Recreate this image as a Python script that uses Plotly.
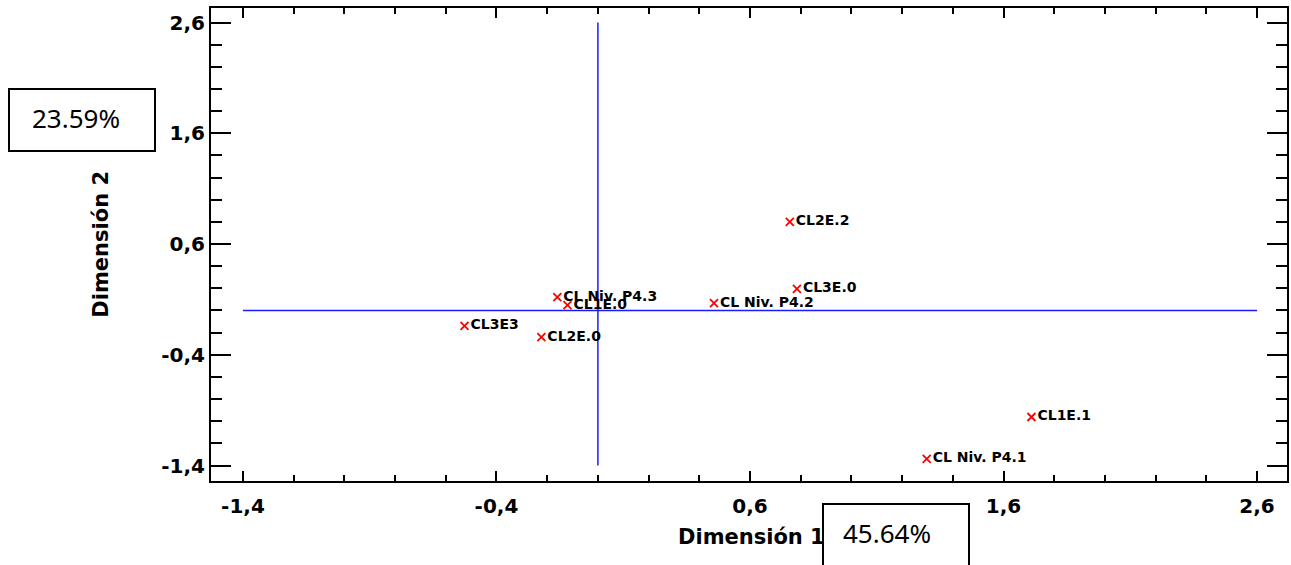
import plotly.graph_objects as go

# --- data ---
labels = ["CL2E.2", "CL3E.0", "CL Niv. P4.2", "CL Niv. P4.3", "CL1E.0",
          "CL3E3", "CL2E.0", "CL1E.1", "CL Niv. P4.1"]
dim1 = [0.757, 0.785, 0.458, -0.160, -0.120, -0.526, -0.223, 1.710, 1.297]
dim2 = [0.799, 0.194, 0.067, 0.121, 0.049, -0.140, -0.240, -0.962, -1.341]

x_ticks = [-1.4, -0.4, 0.6, 1.6, 2.6]
x_ticktext = ["-1,4", "-0,4", "0,6", "1,6", "2,6"]
y_ticks = [-1.4, -0.4, 0.6, 1.6, 2.6]
y_ticktext = ["-1,4", "-0,4", "0,6", "1,6", "2,6"]

cross_h_x = [-1.4, 2.6]
cross_h_y = [0.0, 0.0]
cross_v_x = [0.0, 0.0]
cross_v_y = [-1.4, 2.6]

x_title = "Dimensión 1"
y_title = "Dimensión 2"
pct_dim1 = "45.64%"
pct_dim2 = "23.59%"

BLUE = "#1a1aff"
TICKFONT = dict(family="DejaVu Sans", size=20, color="black", weight="bold")

fig = go.Figure()
fig.add_trace(go.Scatter(x=cross_h_x, y=cross_h_y, mode="lines",
                         line=dict(color=BLUE, width=1.5), hoverinfo="skip"))
fig.add_trace(go.Scatter(x=cross_v_x, y=cross_v_y, mode="lines",
                         line=dict(color=BLUE, width=1.5), hoverinfo="skip"))
fig.add_trace(go.Scatter(
    x=dim1, y=dim2, mode="markers+text", text=labels,
    textposition="middle right",
    textfont=dict(family="DejaVu Sans", size=14, color="black", weight="bold"),
    marker=dict(symbol="x-thin", size=8, line=dict(color="red", width=1.8), color="red"),
))

fig.update_layout(
    width=1291, height=565,
    margin=dict(l=211, r=2, t=8, b=84),
    paper_bgcolor="white", plot_bgcolor="white",
    showlegend=False,
)
fig.update_xaxes(
    range=[-1.526, 2.718], showgrid=False, zeroline=False,
    showline=True, linecolor="black", linewidth=2, mirror="allticks",
    tickmode="array", tickvals=x_ticks, ticktext=x_ticktext,
    ticks="inside", ticklen=10, tickwidth=2, tickcolor="black",
    tickfont=TICKFONT, ticklabelstandoff=6,
    minor=dict(ticks="inside", ticklen=6, tickwidth=1.5, tickcolor="black",
               tick0=-1.4, dtick=0.2, showgrid=False),
)
fig.update_yaxes(
    range=[-1.54, 2.731], showgrid=False, zeroline=False,
    showline=True, linecolor="black", linewidth=2, mirror="allticks",
    tickmode="array", tickvals=y_ticks, ticktext=y_ticktext,
    ticks="inside", ticklen=20, tickwidth=2, tickcolor="black",
    tickfont=TICKFONT,
    minor=dict(ticks="inside", ticklen=11, tickwidth=1.5, tickcolor="black",
               tick0=-1.4, dtick=0.2, showgrid=False),
)

TITLEFONT = dict(family="DejaVu Sans", size=21, color="black", weight="bold")
fig.add_annotation(text=x_title, xref="paper", yref="paper", x=0.502, y=-0.118,
                   showarrow=False, font=TITLEFONT, xanchor="center", yanchor="middle")
fig.add_annotation(text=y_title, xref="paper", yref="paper", x=-0.103, y=0.5,
                   showarrow=False, font=TITLEFONT, textangle=-90,
                   xanchor="center", yanchor="middle")

BOXFONT = dict(family="Noto Sans", size=26, color="black")
# boxes (white fill, black border), then the percentage text on top
for bx, by in [(-0.1201, 0.7632), (0.6368, -0.1142)]:
    fig.add_annotation(text=" ", xref="paper", yref="paper", x=bx, y=by,
                       showarrow=False, font=BOXFONT, width=144, height=60,
                       bgcolor="white", bordercolor="black", borderwidth=2, borderpad=0,
                       xanchor="center", yanchor="middle")
fig.add_annotation(text=pct_dim2, xref="paper", yref="paper", x=-0.1201, y=0.7632,
                   xshift=-6, yshift=2, showarrow=False, font=BOXFONT,
                   xanchor="center", yanchor="middle")
fig.add_annotation(text=pct_dim1, xref="paper", yref="paper", x=0.6368, y=-0.1142,
                   xshift=-9, yshift=2, showarrow=False, font=BOXFONT,
                   xanchor="center", yanchor="middle")

fig.write_html("out.html")
